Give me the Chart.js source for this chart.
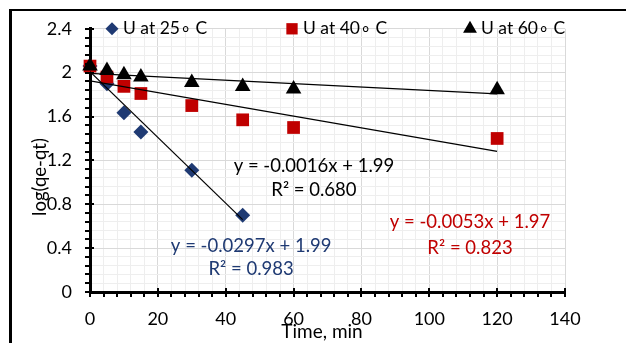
<!DOCTYPE html>
<html>
<head>
<meta charset="utf-8">
<script src="https://cdn.jsdelivr.net/npm/chart.js@4/dist/chart.umd.min.js"></script>
<style>
  html, body { margin: 0; padding: 0; background: #fff; }
</style>
</head>
<body>
<canvas id="kinetics" width="626" height="343"></canvas>
<script>
// sampling times (min) and log(qe-qt)
const times = [0, 5, 10, 15, 30, 45, 60, 120];
const u25 = [2.06, 1.90, 1.635, 1.46, 1.11, 0.70];
const u40 = [2.06, 1.96, 1.875, 1.81, 1.70, 1.57, 1.50, 1.40];
const u60 = [2.06, 2.02, 1.98, 1.96, 1.91, 1.875, 1.85, 1.845];

// trend line end points as drawn
const fit25X = [0, 45];
const fit25Y = [2.01, 0.66];
const fit40X = [0, 120];
const fit40Y = [1.925, 1.283];
const fit60X = [0, 120];
const fit60Y = [1.994, 1.806];

const seriesNames = ['U at 25\u2218 C', 'U at 40\u2218 C', 'U at 60\u2218 C'];
const equations = ['y = -0.0297x + 1.99', 'y = -0.0053x + 1.97', 'y = -0.0016x + 1.99'];
const rSquared = ['R\u00b2 = 0.983', 'R\u00b2 = 0.823', 'R\u00b2 = 0.680'];

const xMajor = 20, xMinor = 4, xMax = 140;
const yMajor = 0.4, yMinor = 0.08, yMax = 2.4;

const blue = '#1f3a73';
const red = '#c00000';
const black = '#000000';
const FONT = 'Lato, "Open Sans", sans-serif';

function pairs(xs, ys) {
  return ys.map((y, i) => ({ x: xs[i], y: y }));
}

function isMajor(v, step) {
  return Math.abs(v / step - Math.round(v / step)) < 1e-6;
}

const markerSeries = [
  { name: seriesNames[0], data: u25, color: blue, style: 'rectRot', radius: 7.5, order: 3 },
  { name: seriesNames[1], data: u40, color: red, style: 'rect', radius: 9, order: 2 },
  { name: seriesNames[2], data: u60, color: black, style: 'triangle', radius: 9, order: 1 }
];

const datasets = markerSeries.map(s => ({
  label: s.name,
  data: pairs(times, s.data),
  pointStyle: s.style,
  pointRadius: s.radius,
  pointBackgroundColor: s.color,
  pointBorderColor: s.color,
  pointBorderWidth: 0,
  showLine: false,
  clip: false,
  order: s.order
}));

[[fit25X, fit25Y], [fit40X, fit40Y], [fit60X, fit60Y]].forEach(f => {
  datasets.push({
    label: 'trend',
    data: pairs(f[0], f[1]),
    showLine: true,
    borderColor: '#000',
    borderWidth: 1.2,
    pointRadius: 0,
    order: 0
  });
});

// equations, placed in data coordinates
const notes = [
  { lines: [equations[0], rSquared[0]], x: 47.5, y: [0.42, 0.205], color: blue },
  { lines: [equations[1], rSquared[1]], x: 112, y: [0.637, 0.405], color: red },
  { lines: [equations[2], rSquared[2]], x: 66, y: [1.148, 0.93], color: black }
];

const decorations = {
  id: 'decorations',
  afterDraw(chart) {
    const ctx = chart.ctx;
    const xs = chart.scales.x, ys = chart.scales.y;
    ctx.save();

    // outer frame (only top and left edges fall inside the picture)
    ctx.fillStyle = '#000';
    ctx.fillRect(9, 9, 617, 2);
    ctx.fillRect(9, 9, 3, 334);

    // tick marks: minor outside, major crossing the axis
    ctx.strokeStyle = '#000';
    ctx.lineWidth = 2;
    ctx.beginPath();
    xs.ticks.forEach(t => {
      const px = Math.round(xs.getPixelForValue(t.value));
      const up = isMajor(t.value, xMajor) ? 4 : 0;
      ctx.moveTo(px, xs.top - up);
      ctx.lineTo(px, xs.top + 5);
    });
    ys.ticks.forEach(t => {
      const py = Math.round(ys.getPixelForValue(t.value));
      const inside = isMajor(t.value, yMajor) ? 4 : 0;
      ctx.moveTo(ys.right - 5, py);
      ctx.lineTo(ys.right + inside, py);
    });
    ctx.stroke();

    // axis titles
    ctx.fillStyle = '#000';
    ctx.font = '19px ' + FONT;
    ctx.textAlign = 'center';
    ctx.textBaseline = 'middle';
    ctx.fillText('Time, min', 322, 332);
    ctx.save();
    ctx.translate(40, 177);
    ctx.rotate(-Math.PI / 2);
    ctx.font = '18.5px ' + FONT;
    ctx.fillText('log(qe-qt)', 0, 0);
    ctx.restore();

    // equations
    ctx.font = '18.5px ' + FONT;
    notes.forEach(n => {
      ctx.fillStyle = n.color;
      n.lines.forEach((txt, i) => {
        ctx.fillText(txt, xs.getPixelForValue(n.x), ys.getPixelForValue(n.y[i]));
      });
    });

    // legend inside the plot, along the top edge
    const legendX = [112, 292, 470];
    const legendY = chart.chartArea.top;
    ctx.font = '17.5px ' + FONT;
    ctx.textAlign = 'left';
    markerSeries.forEach((s, i) => {
      ctx.fillStyle = s.color;
      ctx.strokeStyle = s.color;
      ctx.lineWidth = 0;
      Chart.helpers.drawPoint(ctx, { pointStyle: s.style, radius: s.style === 'rectRot' ? 6.5 : 8, rotation: 0, borderWidth: 0 }, legendX[i], legendY);
      ctx.fillStyle = '#000';
      ctx.fillText(s.name, legendX[i] + 11, legendY);
    });
    ctx.restore();
  }
};

new Chart(document.getElementById('kinetics'), {
  type: 'scatter',
  data: { datasets: datasets },
  plugins: [decorations],
  options: {
    responsive: false,
    animation: false,
    devicePixelRatio: 1,
    layout: { padding: { left: 44, right: 61, top: 23, bottom: 0 } },
    plugins: {
      legend: { display: false },
      tooltip: { enabled: false }
    },
    scales: {
      x: {
        type: 'linear',
        min: 0,
        max: xMax,
        afterFit(s) { s.height = 51; },
        ticks: {
          stepSize: xMinor,
          autoSkip: false,
          maxRotation: 0,
          padding: 16,
          color: '#000',
          font: { family: FONT, size: 18 },
          callback: v => isMajor(v, xMajor) ? String(v) : ''
        },
        grid: {
          drawTicks: false,
          lineWidth: 1,
          color: c => isMajor(c.tick.value, xMajor) ? '#d9d9d9' : '#eeeeee'
        },
        border: { color: '#000', width: 3 }
      },
      y: {
        type: 'linear',
        min: 0,
        max: yMax,
        afterFit(s) { s.width = 46; },
        ticks: {
          stepSize: yMinor,
          autoSkip: false,
          padding: 18,
          color: '#000',
          font: { family: FONT, size: 18 },
          callback: v => isMajor(v, yMajor) ? String(Math.round(v * 10) / 10) : ''
        },
        grid: {
          drawTicks: false,
          lineWidth: 1,
          color: c => isMajor(c.tick.value, yMajor) ? '#d9d9d9' : '#eeeeee'
        },
        border: { color: '#000', width: 3 }
      }
    }
  }
});
</script>
</body>
</html>
